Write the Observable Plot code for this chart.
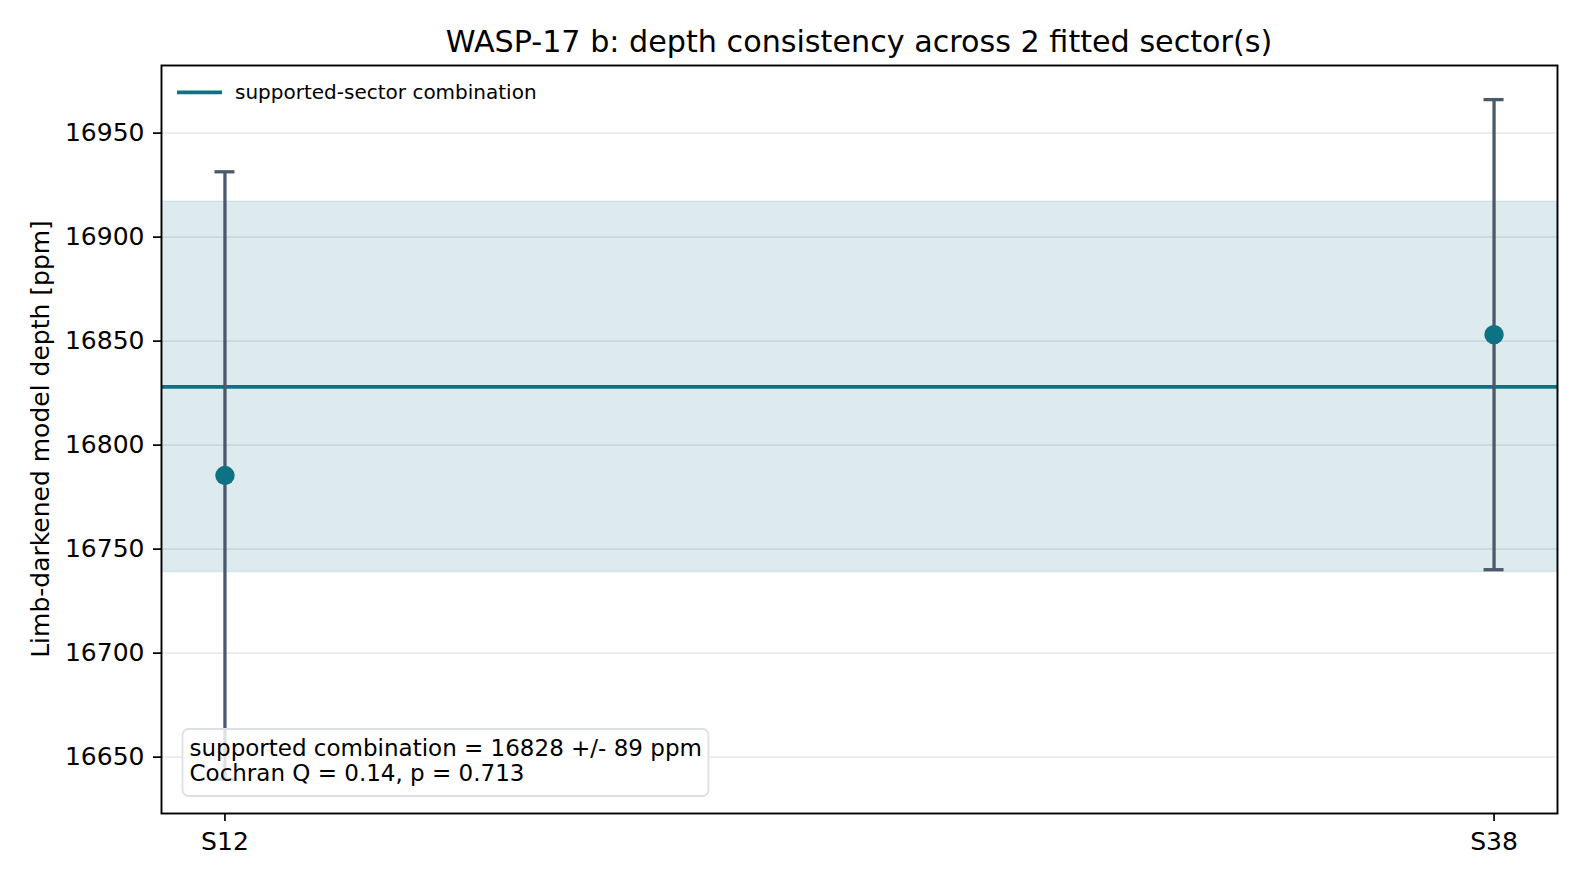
<!DOCTYPE html>
<html>
<head>
<meta charset="utf-8">
<script src="https://cdn.jsdelivr.net/npm/d3@7"></script>
<script src="https://cdn.jsdelivr.net/npm/@observablehq/plot@0.6"></script>
<style>
  html, body { margin: 0; padding: 0; background: #fff; overflow: hidden; }
  #chart svg { display: block; }
</style>
</head>
<body>
<div id="chart"></div>
<script>
// ---- data ----
const sectors = ["S12", "S38"];
const depths = [16785.4, 16853.1];
const errors = [146, 113];
const combined = 16828;
const combinedErr = 89;
const cochranQ = 0.14;
const pValue = 0.713;
const yTicks = [16650, 16700, 16750, 16800, 16850, 16900, 16950];
const planet = "WASP-17 b";

const rows = sectors.map((s, i) => ({ i, sector: s, depth: depths[i], err: errors[i] }));

const W = 1584, H = 882;
const mL = 161, mR = 27, mT = 65, mB = 69;
const xDomain = [-0.05, sectors.length - 1 + 0.05];
const yDomain = [16622.9, 16982.5];
const plotW = W - mL - mR;
const capHalf = 10 * (xDomain[1] - xDomain[0]) / plotW;

const teal = "#0e7285";
const slate = "#4b5a6a";
const font = "DejaVu Sans, sans-serif";

const chart = Plot.plot({
  width: W, height: H,
  marginLeft: mL, marginRight: mR, marginTop: mT, marginBottom: mB,
  style: { fontFamily: font, fontSize: "25px", color: "#000", background: "#fff" },
  x: { domain: xDomain, axis: null },
  y: { domain: yDomain, axis: null },
  marks: [
    Plot.rect([{ lo: combined - combinedErr, hi: combined + combinedErr }], {
      x1: () => xDomain[0], x2: () => xDomain[1], y1: "lo", y2: "hi",
      fill: teal, fillOpacity: 0.14, stroke: teal, strokeOpacity: 0.12, strokeWidth: 1.5
    }),
    Plot.ruleY(yTicks, { stroke: "#000", strokeOpacity: 0.08, strokeWidth: 1.6 }),
    Plot.ruleY([combined], { stroke: teal, strokeWidth: 3.8 }),
    Plot.ruleX(rows, { x: "i", y1: d => d.depth - d.err, y2: d => d.depth + d.err, stroke: slate, strokeWidth: 3.3 }),
    Plot.ruleY(rows, { y: d => d.depth + d.err, x1: d => d.i - capHalf, x2: d => d.i + capHalf, stroke: slate, strokeWidth: 3.3 }),
    Plot.ruleY(rows, { y: d => d.depth - d.err, x1: d => d.i - capHalf, x2: d => d.i + capHalf, stroke: slate, strokeWidth: 3.3 }),
    Plot.dot(rows, { x: "i", y: "depth", r: 9.7, fill: teal, stroke: teal, strokeWidth: 0 }),
    Plot.axisY(yTicks, { label: null, tickSize: 8, tickPadding: 9, fontSize: 25, tickFormat: d => String(d), strokeWidth: 1.7, color: "#000" }),
    Plot.axisX(rows.map(d => d.i), { label: null, tickSize: 8, tickPadding: 11, fontSize: 25, tickFormat: i => sectors[i], strokeWidth: 1.7, color: "#000" }),
    Plot.frame({ stroke: "#000", strokeWidth: 1.9 })
  ]
});

document.getElementById("chart").appendChild(chart);

const svg = d3.select(chart);
// title
svg.append("text")
  .attr("x", mL + plotW / 2).attr("y", 52)
  .attr("text-anchor", "middle")
  .style("font-family", font).style("font-size", "30.2px").attr("fill", "#000")
  .text(`${planet}: depth consistency across ${sectors.length} fitted sector(s)`);
// y label
svg.append("text")
  .attr("transform", `translate(40.5, ${mT + (H - mT - mB) / 2}) rotate(-90)`)
  .attr("text-anchor", "middle").attr("dominant-baseline", "central")
  .style("font-family", font).style("font-size", "25px").attr("fill", "#000")
  .text("Limb-darkened model depth [ppm]");
// legend
svg.append("line").attr("x1", 177).attr("x2", 222).attr("y1", 92.3).attr("y2", 92.3)
  .attr("stroke", teal).attr("stroke-width", 3.8);
svg.append("text").attr("x", 235).attr("y", 92.3).attr("text-anchor", "start").attr("dominant-baseline", "central")
  .style("font-family", font).style("font-size", "20px").attr("fill", "#000")
  .text("supported-sector combination");
// annotation box
svg.append("rect").attr("x", 182.5).attr("y", 729).attr("width", 526).attr("height", 67)
  .attr("rx", 6).attr("fill", "#fff").attr("fill-opacity", 0.82)
  .attr("stroke", "#dbe1e6").attr("stroke-width", 1.8);
const ann = svg.append("text").attr("text-anchor", "start")
  .style("font-family", font).style("font-size", "23px").attr("fill", "#000");
ann.append("tspan").attr("x", 189.5).attr("y", 755.5)
  .text(`supported combination = ${combined} +/- ${combinedErr} ppm`);
ann.append("tspan").attr("x", 189.5).attr("y", 781)
  .text(`Cochran Q = ${cochranQ.toFixed(2)}, p = ${pValue.toFixed(3)}`);
</script>
</body>
</html>
